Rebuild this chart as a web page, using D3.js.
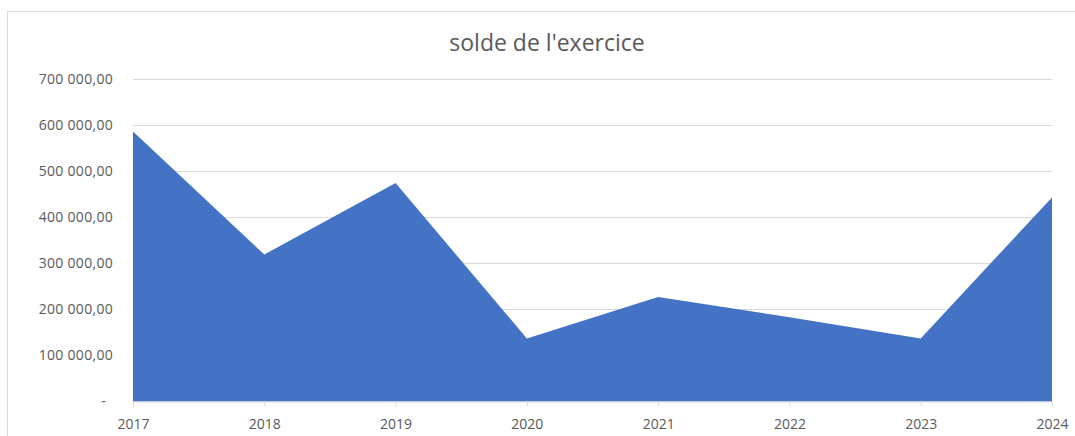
<!DOCTYPE html>
<html>
<head>
<meta charset="utf-8">
<script src="https://cdn.jsdelivr.net/npm/d3@7"></script>
<style>
  html, body { margin: 0; padding: 0; background: #fff; }
  svg { display: block; }
</style>
</head>
<body>
<svg width="1075" height="436"></svg>
<script>
const years = ["2017", "2018", "2019", "2020", "2021", "2022", "2023", "2024"];
const solde = [586000, 319000, 474000, 137000, 227000, 183000, 137000, 443000];
const yTicks = [0, 100000, 200000, 300000, 400000, 500000, 600000, 700000];
const title = "solde de l'exercice";

const svg = d3.select("svg");
const margin = { left: 133, right: 1052, top: 79, bottom: 401.5 };
const textColor = "#595959";
const gridColor = "#d9d9d9";

// chart frame
svg.append("rect")
  .attr("x", 7.5)
  .attr("y", 11.5)
  .attr("width", 1100)
  .attr("height", 500)
  .attr("fill", "none")
  .attr("stroke", gridColor);

const x = d3.scalePoint()
  .domain(years)
  .range([margin.left, margin.right]);

const y = d3.scaleLinear()
  .domain([0, 700000])
  .range([margin.bottom, margin.top]);

// formatted like "600 000,00", zero shown as "-"
const fmt = v => v === 0 ? "-" : d3.format(",")(v).replace(/,/g, " ") + ",00";

// gridlines
svg.append("g")
  .selectAll("line")
  .data(yTicks.filter(d => d > 0))
  .join("line")
  .attr("x1", margin.left)
  .attr("x2", margin.right)
  .attr("y1", d => Math.round(y(d)) + 0.5)
  .attr("y2", d => Math.round(y(d)) + 0.5)
  .attr("stroke", gridColor)
  .attr("stroke-width", 1);

// area
const area = d3.area()
  .x((d, i) => x(years[i]))
  .y0(y(0))
  .y1(d => y(d));

svg.append("path")
  .datum(solde)
  .attr("d", area)
  .attr("fill", "#4472C4");

// x axis
const xAxis = svg.append("g")
  .attr("transform", `translate(0, ${y(0)})`)
  .call(d3.axisBottom(x).tickSize(5).tickPadding(13).tickSizeOuter(0));
xAxis.select(".domain").attr("stroke", gridColor);
xAxis.selectAll(".tick line").attr("stroke", gridColor);
xAxis.selectAll("text")
  .attr("fill", textColor)
  .attr("font-family", "'Open Sans', sans-serif")
  .attr("font-size", "14px");

// y labels
svg.append("g")
  .selectAll("text")
  .data(yTicks)
  .join("text")
  .attr("x", d => d === 0 ? 106 : 113)
  .attr("y", d => y(d))
  .attr("dy", "0.35em")
  .attr("text-anchor", "end")
  .attr("fill", textColor)
  .attr("font-family", "'Open Sans', sans-serif")
  .attr("font-size", "14px")
  .attr("letter-spacing", "0.3px")
  .text(fmt);

// title
svg.append("text")
  .attr("x", 547)
  .attr("y", 51)
  .attr("text-anchor", "middle")
  .attr("fill", textColor)
  .attr("font-family", "'Open Sans', sans-serif")
  .attr("font-size", "23px")
  .text(title);
</script>
</body>
</html>
